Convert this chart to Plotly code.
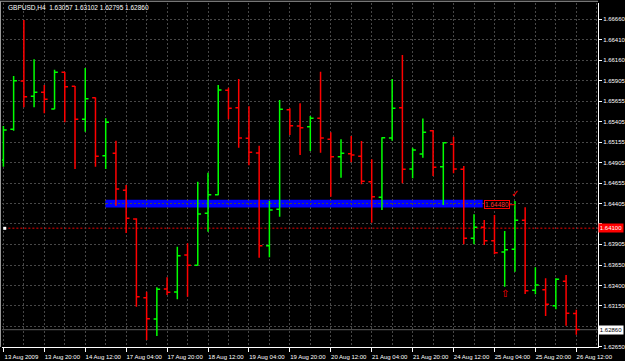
import plotly.graph_objects as go

times = [
    "2009-08-13 04:00", "2009-08-13 08:00", "2009-08-13 12:00", "2009-08-13 16:00", "2009-08-13 20:00",
    "2009-08-14 00:00", "2009-08-14 04:00", "2009-08-14 08:00", "2009-08-14 12:00", "2009-08-14 16:00", "2009-08-14 20:00",
    "2009-08-17 00:00", "2009-08-17 04:00", "2009-08-17 08:00", "2009-08-17 12:00", "2009-08-17 16:00", "2009-08-17 20:00",
    "2009-08-18 00:00", "2009-08-18 04:00", "2009-08-18 08:00", "2009-08-18 12:00", "2009-08-18 16:00", "2009-08-18 20:00",
    "2009-08-19 00:00", "2009-08-19 04:00", "2009-08-19 08:00", "2009-08-19 12:00", "2009-08-19 16:00", "2009-08-19 20:00",
    "2009-08-20 00:00", "2009-08-20 04:00", "2009-08-20 08:00", "2009-08-20 12:00", "2009-08-20 16:00", "2009-08-20 20:00",
    "2009-08-21 00:00", "2009-08-21 04:00", "2009-08-21 08:00", "2009-08-21 12:00", "2009-08-21 16:00", "2009-08-21 20:00",
    "2009-08-24 00:00", "2009-08-24 04:00", "2009-08-24 08:00", "2009-08-24 12:00", "2009-08-24 16:00", "2009-08-24 20:00",
    "2009-08-25 00:00", "2009-08-25 04:00", "2009-08-25 08:00", "2009-08-25 12:00", "2009-08-25 16:00", "2009-08-25 20:00",
    "2009-08-26 00:00", "2009-08-26 04:00", "2009-08-26 08:00", "2009-08-26 12:00",
]

open_ = [1.64937, 1.65313, 1.65904, 1.65717, 1.65766, 1.65561, 1.66011, 1.65839, 1.65435, 1.65700,
         1.64989, 1.65019, 1.64566, 1.64214, 1.63250, 1.62989, 1.63357, 1.63320, 1.63773, 1.63647,
         1.64284, 1.64512, 1.65790, 1.65577, 1.65203, 1.65022, 1.63887, 1.64333, 1.65553, 1.65353,
         1.65345, 1.65447, 1.65190, 1.64977, 1.65014, 1.64982, 1.64671, 1.64480, 1.65206, 1.65577,
         1.64827, 1.65010, 1.65296, 1.64855, 1.65129, 1.64823, 1.63978, 1.64112, 1.63948, 1.63810,
         1.63843, 1.64198, 1.63341, 1.63348, 1.63152, 1.63451, 1.63057]
high = [1.65353, 1.65966, 1.66651, 1.66170, 1.65855, 1.66043, 1.66015, 1.65843, 1.66064, 1.65702,
        1.65447, 1.65173, 1.64631, 1.64223, 1.63324, 1.63378, 1.63500, 1.63875, 1.63917, 1.64671,
        1.64781, 1.65855, 1.65822, 1.65929, 1.65594, 1.65112, 1.64435, 1.65672, 1.65570, 1.65631,
        1.65476, 1.66018, 1.65276, 1.65190, 1.65231, 1.65169, 1.64945, 1.65215, 1.65929, 1.66223,
        1.65087, 1.65445, 1.65304, 1.65154, 1.65222, 1.64863, 1.64272, 1.64202, 1.64263, 1.64067,
        1.64435, 1.64357, 1.63623, 1.63488, 1.63488, 1.63528, 1.63102]
low = [1.64855, 1.65296, 1.65582, 1.65582, 1.65509, 1.65558, 1.65399, 1.64827, 1.65283, 1.64855,
       1.64827, 1.64377, 1.64043, 1.63140, 1.62732, 1.62781, 1.63283, 1.63231, 1.63262, 1.63645,
       1.64059, 1.64504, 1.65435, 1.65087, 1.64872, 1.63740, 1.63745, 1.64242, 1.65243, 1.64998,
       1.65047, 1.65026, 1.64487, 1.64720, 1.64909, 1.64639, 1.64169, 1.64324, 1.65173, 1.64651,
       1.64713, 1.64965, 1.64741, 1.64386, 1.64774, 1.63904, 1.63904, 1.63896, 1.63782, 1.63385,
       1.63569, 1.63296, 1.63292, 1.63026, 1.63108, 1.62907, 1.62795]
close = [1.65304, 1.65908, 1.65712, 1.65766, 1.65680, 1.66011, 1.65835, 1.65435, 1.65688, 1.64982,
         1.65399, 1.64582, 1.64223, 1.63262, 1.62993, 1.63353, 1.63316, 1.63765, 1.63647, 1.64275,
         1.64512, 1.65794, 1.65570, 1.65206, 1.65031, 1.63887, 1.64324, 1.65558, 1.65357, 1.65332,
         1.65447, 1.65206, 1.64977, 1.65019, 1.64998, 1.64676, 1.64487, 1.65210, 1.65570, 1.64823,
         1.65059, 1.65276, 1.64847, 1.65149, 1.64827, 1.63978, 1.64112, 1.63948, 1.63801, 1.63838,
         1.64198, 1.63336, 1.63406, 1.63169, 1.63476, 1.63059, 1.62860]

tick_times = ["2009-08-13 04:00", "2009-08-13 20:00", "2009-08-14 12:00", "2009-08-17 04:00",
              "2009-08-17 20:00", "2009-08-18 12:00", "2009-08-19 04:00", "2009-08-19 20:00",
              "2009-08-20 12:00", "2009-08-21 04:00", "2009-08-21 20:00", "2009-08-24 12:00",
              "2009-08-25 04:00", "2009-08-25 20:00", "2009-08-26 12:00"]
tick_labels = ["13 Aug 2009", "13 Aug 20:00", "14 Aug 12:00", "17 Aug 04:00", "17 Aug 20:00",
               "18 Aug 12:00", "19 Aug 04:00", "19 Aug 20:00", "20 Aug 12:00", "21 Aug 04:00",
               "21 Aug 20:00", "24 Aug 12:00", "25 Aug 04:00", "25 Aug 20:00", "26 Aug 12:00"]

price_ticks = [1.66660, 1.66410, 1.66160, 1.65905, 1.65655, 1.65405, 1.65155, 1.64905, 1.64655,
               1.64405, 1.64155, 1.63905, 1.63650, 1.63400, 1.63150, 1.62900, 1.62650]
# labels hidden behind the price markers on the scale are left blank
price_labels = ["%.5f" % v for v in price_ticks]
price_labels[10] = ""
price_labels[15] = ""

symbol = "GBPUSD,H4"
hline_level = 1.64100
zone_low, zone_high = 1.64355, 1.64450
zone_start, zone_end = 9.96, 46.85
label_text, label_x, label_y = "1.64480", 48.2, 1.64389
check_x, check_y = 50, 1.64526
arrow_x, arrow_y = 49, 1.63302

x = list(range(len(times)))
tickvals = [times.index(t) for t in tick_times]
last = close[-1]

FONT = "Liberation Sans"
FS = 6
GRID = "#474747"

fig = go.Figure()
fig.add_trace(go.Ohlc(
    x=x, open=open_, high=high, low=low, close=close,
    increasing=dict(line=dict(color="#00ff00", width=1.5)),
    decreasing=dict(line=dict(color="#ff0000", width=1.5)),
    tickwidth=0.32, showlegend=False, hoverinfo="skip",
))
fig.add_trace(go.Scatter(x=[0.13], y=[hline_level], mode="markers",
                         marker=dict(symbol="square", size=3, color="white"),
                         showlegend=False, hoverinfo="skip"))

shapes = [
    dict(type="rect", xref="x", yref="y", x0=zone_start, x1=zone_end, y0=zone_low, y1=zone_high,
         fillcolor="#0000ff", line=dict(width=0), layer="below"),
    dict(type="line", xref="paper", yref="y", x0=0.004, x1=1, y0=hline_level, y1=hline_level,
         line=dict(color="#a00000", width=1.5, dash="2px,2px"), layer="below"),
    dict(type="line", xref="paper", yref="y", x0=0, x1=1, y0=last, y1=last,
         line=dict(color="#4a4a4a", width=1.3), layer="below"),
    dict(type="line", xref="x", yref="y", x0=49.33, x1=50, y0=label_y, y1=label_y,
         line=dict(color="#ff0000", width=1)),
    dict(type="line", xref="paper", yref="paper", x0=-0.004, x1=1, y0=1.005, y1=1.005,
         line=dict(color="#9a9a9a", width=1)),
    dict(type="line", xref="paper", yref="paper", x0=-0.0025, x1=-0.0025, y0=0, y1=1.005,
         line=dict(color="#9a9a9a", width=1)),
]

annotations = [
    dict(xref="paper", yref="paper", x=0.007, y=0.9875, xanchor="left", yanchor="middle",
         text="%s  %.5f %.5f %.5f %.5f" % (symbol, open_[-1], high[-1], low[-1], close[-1]),
         showarrow=False, font=dict(family=FONT, size=6.5, color="white")),
    dict(xref="paper", yref="y", x=1.0, y=hline_level, xanchor="left", yanchor="middle",
         text="%.5f" % hline_level, showarrow=False, bgcolor="#ff0000", width=22,
         borderpad=1, font=dict(family=FONT, size=FS, color="white")),
    dict(xref="paper", yref="y", x=1.0, y=last, xanchor="left", yanchor="middle",
         text="%.5f" % last, showarrow=False, bgcolor="white", width=22,
         borderpad=1, font=dict(family=FONT, size=FS, color="black")),
    dict(xref="x", yref="y", x=label_x, y=label_y, xanchor="center", yanchor="middle",
         text=label_text, showarrow=False, bgcolor="black", bordercolor="#ff0000",
         borderwidth=1, borderpad=0, font=dict(family=FONT, size=6.5, color="#ff3030")),
    dict(xref="x", yref="y", x=check_x, y=check_y, text="✓", showarrow=False,
         font=dict(family="DejaVu Sans", size=10, color="#ff0000")),
    dict(xref="x", yref="y", x=arrow_x, y=arrow_y, text="⇧", showarrow=False,
         font=dict(family="DejaVu Sans", size=10, color="#ff0000")),
]

fig.update_layout(
    width=625, height=361, autosize=False,
    margin=dict(l=2, r=27, t=3, b=14, pad=0),
    paper_bgcolor="black", plot_bgcolor="black",
    shapes=shapes, annotations=annotations, showlegend=False,
    xaxis=dict(
        range=[-0.137, 58.12], rangeslider=dict(visible=False), automargin=False,
        tickvals=tickvals, ticktext=tick_labels, ticks="outside", ticklen=4, tickangle=0,
        tickcolor="white", tickwidth=1, ticklabelshift=18, ticklabelstandoff=0,
        showgrid=True, gridcolor=GRID, griddash="2px,2px", gridwidth=1,
        minor=dict(dtick=2, tick0=0, showgrid=True, gridcolor=GRID, griddash="2px,2px", ticks=""),
        showline=True, linecolor="white", linewidth=1, zeroline=False,
        tickfont=dict(family=FONT, size=FS, color="white"), fixedrange=True,
    ),
    yaxis=dict(
        side="right", range=[1.626463, 1.668597], automargin=False,
        tickvals=price_ticks, ticktext=price_labels, ticks="outside", ticklen=3,
        ticklabelstandoff=0,
        tickcolor="white", showgrid=True, gridcolor=GRID, griddash="2px,2px",
        showline=True, linecolor="white", linewidth=1, zeroline=False,
        tickfont=dict(family=FONT, size=FS, color="white"), fixedrange=True,
    ),
)

fig.write_html("out.html")
